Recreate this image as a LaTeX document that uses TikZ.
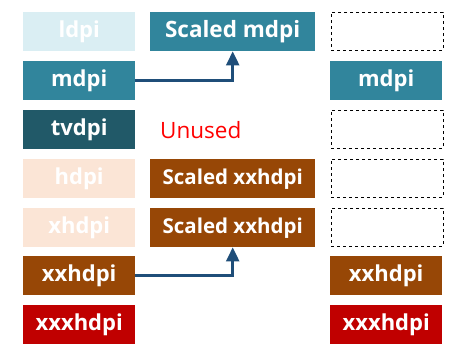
\documentclass[tikz,border=0pt]{standalone}
\usepackage{fontspec}
\setmainfont{Open Sans}
\usetikzlibrary{arrows.meta}

\definecolor{ldpiblue}{HTML}{DAEEF3}
\definecolor{mdpiblue}{HTML}{31859C}
\definecolor{tvdpiteal}{HTML}{215968}
\definecolor{hdpipeach}{HTML}{FBE5D6}
\definecolor{xxhdpibrown}{HTML}{974706}
\definecolor{xxxhdpired}{HTML}{C00000}
\definecolor{arrowblue}{HTML}{1F4E79}
\definecolor{unusedred}{HTML}{FF0000}

\begin{document}
\begin{tikzpicture}[x=1pt,y=-1pt,
  dpibox/.style={anchor=north west, minimum width=112pt, minimum height=39pt,
    inner sep=0pt, text=white, font=\bfseries\fontsize{22}{22}\selectfont},
  widebox/.style={dpibox, minimum width=165pt},
  emptybox/.style={draw, dashed, anchor=north west, minimum width=112pt,
    minimum height=38pt, inner sep=0pt},
  scalearrow/.style={draw=arrowblue, line width=2.5pt,
    -{Triangle[width=13pt,length=14pt]}}]

\useasboundingbox (0,0) rectangle (467,362);

% Source densities
\node[dpibox,fill=ldpiblue] (ldpi) at (23,12) {ldpi};
\node[dpibox,fill=mdpiblue] (mdpi) at (23,61) {mdpi};
\node[dpibox,fill=tvdpiteal] (tvdpi) at (23,110) {tvdpi};
\node[dpibox,fill=hdpipeach] (hdpi) at (23,159) {hdpi};
\node[dpibox,fill=hdpipeach] (xhdpi) at (23,208) {xhdpi};
\node[dpibox,fill=xxhdpibrown] (xxhdpi) at (23,256) {xxhdpi};
\node[dpibox,fill=xxxhdpired] (xxxhdpi) at (23,305) {xxxhdpi};

% Scaled images
\node[widebox,fill=mdpiblue,font=\bfseries\fontsize{22.5}{22.5}\selectfont]
  (smdpi) at (150,12) {Scaled mdpi};
\node[anchor=west,inner sep=0pt,text=unusedred,font=\fontsize{22.5}{22.5}\selectfont]
  (unused) at (160,130) {Unused};
\node[widebox,fill=xxhdpibrown,font=\bfseries\fontsize{20.5}{20.5}\selectfont]
  (sxxhdpia) at (150,159) {Scaled xxhdpi};
\node[widebox,fill=xxhdpibrown,font=\bfseries\fontsize{20.5}{20.5}\selectfont]
  (sxxhdpib) at (150,208) {Scaled xxhdpi};

% Bundled resources
\node[emptybox] (rldpi) at (331,12) {};
\node[dpibox,fill=mdpiblue] (rmdpi) at (330,61) {mdpi};
\node[emptybox] (rtvdpi) at (331,110) {};
\node[emptybox] (rhdpi) at (331,159) {};
\node[emptybox] (rxhdpi) at (331,208) {};
\node[dpibox,fill=xxhdpibrown] (rxxhdpi) at (330,256) {xxhdpi};
\node[dpibox,fill=xxxhdpired] (rxxxhdpi) at (330,305) {xxxhdpi};

% Scaling arrows
\draw[scalearrow] (mdpi.east) -| (smdpi.south);
\draw[scalearrow] (xxhdpi.east) -| (sxxhdpib.south);

\end{tikzpicture}
\end{document}
